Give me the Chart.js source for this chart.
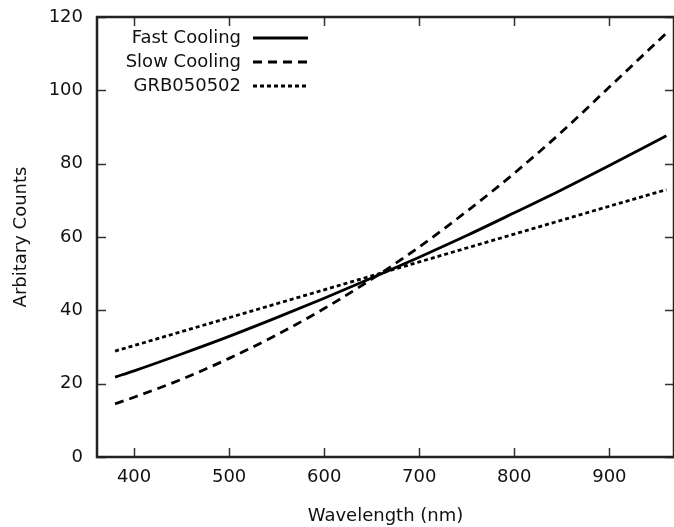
<!DOCTYPE html>
<html>
<head>
<meta charset="utf-8">
<script src="https://cdn.jsdelivr.net/npm/chart.js@4"></script>
<style>
  html, body { margin: 0; padding: 0; background: #fff; }
</style>
</head>
<body>
<canvas id="myChart" width="674" height="527"></canvas>
<script>
// values
const wavelength  = [380, 400, 450, 500, 550, 600, 650, 700, 750, 800, 850, 900, 960];
const fastCooling = [21.8, 23.5, 28.1, 32.9, 38.0, 43.3, 48.8, 54.5, 60.4, 66.6, 72.9, 79.5, 87.6];
const slowCooling = [14.5, 16.3, 21.2, 26.9, 33.3, 40.5, 48.5, 57.3, 67.0, 77.4, 88.7, 100.9, 115.6];
const grb050502   = [28.9, 30.4, 34.2, 38.0, 41.8, 45.6, 49.4, 53.2, 57.0, 60.8, 64.6, 68.4, 72.9];
const xTicks = [400, 500, 600, 700, 800, 900];
const yTicks = [0, 20, 40, 60, 80, 100, 120];

const seriesNames = ['Fast Cooling', 'Slow Cooling', 'GRB050502'];
const seriesDash  = [[], [9, 6], [4, 3]];

const FONT = 'DejaVu Sans';
const TEXT = '#111';

const toPoints = (ys) => wavelength.map((x, i) => ({ x: x, y: ys[i] }));

// box round the plot + inward tick marks on all four sides
const framePlugin = {
  id: 'frame',
  afterDraw(chart) {
    const { ctx, chartArea: a, scales } = chart;
    const len = 9;
    ctx.save();
    ctx.strokeStyle = '#333';
    ctx.lineWidth = 1.5;
    ctx.beginPath();
    scales.x.ticks.forEach(t => {
      const px = Math.round(scales.x.getPixelForValue(t.value)) + 0.5;
      ctx.moveTo(px, a.bottom); ctx.lineTo(px, a.bottom - len);
      ctx.moveTo(px, a.top); ctx.lineTo(px, a.top + len);
    });
    scales.y.ticks.forEach(t => {
      const py = Math.round(scales.y.getPixelForValue(t.value)) + 0.5;
      ctx.moveTo(a.left, py); ctx.lineTo(a.left + len, py);
      ctx.moveTo(a.right, py); ctx.lineTo(a.right - len, py);
    });
    ctx.stroke();
    ctx.strokeStyle = '#222';
    ctx.lineWidth = 2.5;
    ctx.strokeRect(a.left, a.top, a.right - a.left, a.bottom - a.top);
    ctx.restore();
  }
};

// legend in the upper left, text right-aligned, sample line after it
const legendPlugin = {
  id: 'innerLegend',
  afterDraw(chart) {
    const { ctx } = chart;
    const textRight = 241;
    const lineStart = 253, lineEnd = 308;
    const rows = [38, 62, 86];
    ctx.save();
    ctx.font = '18px "' + FONT + '"';
    ctx.fillStyle = TEXT;
    ctx.textAlign = 'right';
    ctx.textBaseline = 'middle';
    seriesNames.forEach((name, i) => {
      ctx.fillText(name, textRight, rows[i]);
      ctx.beginPath();
      ctx.setLineDash(seriesDash[i]);
      ctx.strokeStyle = '#000';
      ctx.lineWidth = 2.8;
      ctx.moveTo(lineStart, rows[i]);
      ctx.lineTo(lineEnd, rows[i]);
      ctx.stroke();
    });
    ctx.restore();
  }
};

const makeSet = (label, ys, dash) => ({
  label: label,
  data: toPoints(ys),
  borderColor: '#000',
  borderWidth: 2.8,
  borderDash: dash,
  pointRadius: 0,
  fill: false,
  cubicInterpolationMode: 'monotone'
});

new Chart(document.getElementById('myChart'), {
  type: 'line',
  data: {
    datasets: [
      makeSet(seriesNames[0], fastCooling, seriesDash[0]),
      makeSet(seriesNames[1], slowCooling, seriesDash[1]),
      makeSet(seriesNames[2], grb050502, seriesDash[2])
    ]
  },
  options: {
    responsive: false,
    animation: false,
    devicePixelRatio: 1,
    layout: { padding: { top: 17, right: 0, left: 0, bottom: 0 } },
    plugins: { legend: { display: false }, tooltip: { enabled: false } },
    scales: {
      x: {
        type: 'linear',
        min: 361,
        max: 968,
        grid: { display: false, drawTicks: false },
        border: { display: false },
        ticks: { padding: 10, color: TEXT, font: { family: FONT, size: 18 } },
        afterBuildTicks: (scale) => {
          scale.ticks = xTicks.map(v => ({ value: v }));
        },
        afterFit: (scale) => {
          scale.height = 70;
          scale.paddingLeft = 0;
          scale.paddingRight = 0;
        },
        title: {
          display: true,
          text: 'Wavelength (nm)',
          color: TEXT,
          font: { family: FONT, size: 18 },
          padding: { top: 0, bottom: 0 }
        }
      },
      y: {
        min: 0,
        max: 120,
        grid: { display: false, drawTicks: false },
        border: { display: false },
        ticks: { padding: 14, color: TEXT, font: { family: FONT, size: 18 } },
        afterBuildTicks: (scale) => {
          scale.ticks = yTicks.map(v => ({ value: v }));
        },
        afterFit: (scale) => {
          scale.width = 97;
          scale.paddingTop = 0;
          scale.paddingBottom = 0;
        },
        title: {
          display: true,
          text: 'Arbitary Counts',
          color: TEXT,
          font: { family: FONT, size: 18 },
          padding: { top: 11, bottom: 0 }
        }
      }
    }
  },
  plugins: [framePlugin, legendPlugin]
});
</script>
</body>
</html>
